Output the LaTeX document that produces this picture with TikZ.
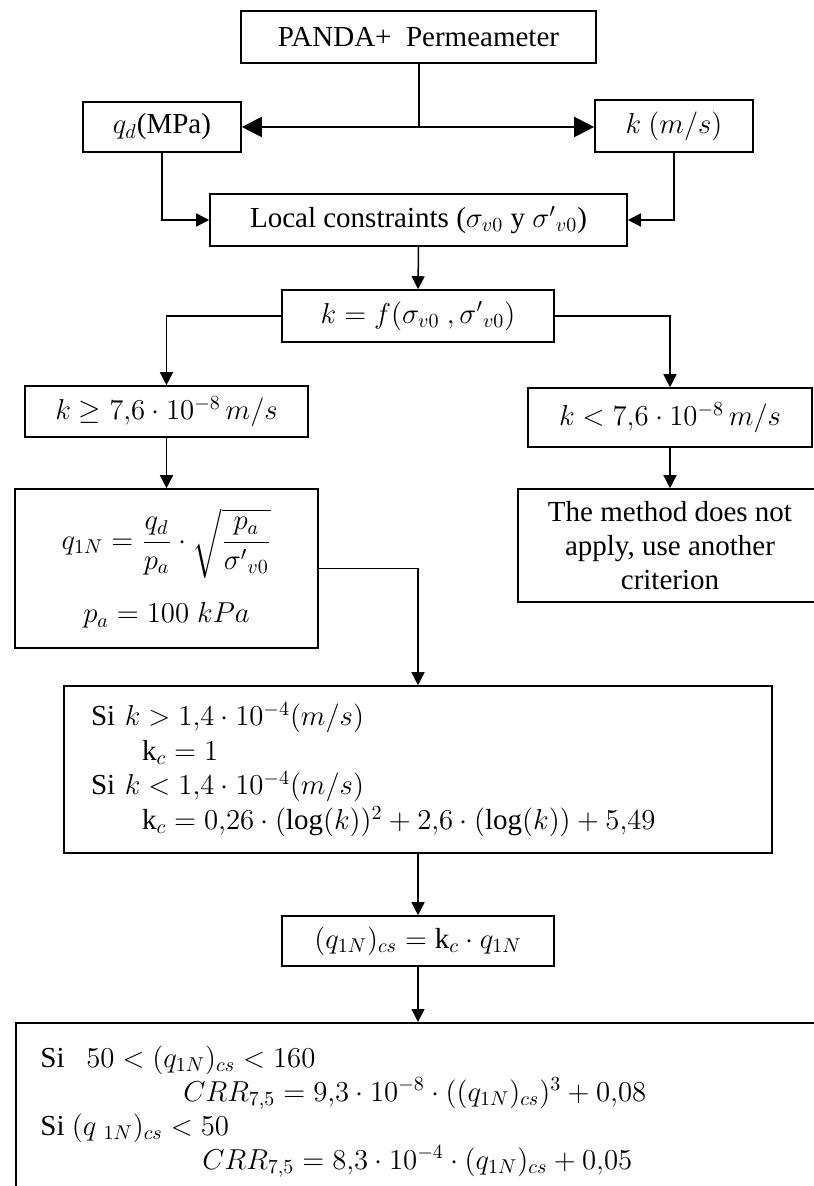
\documentclass[tikz,border=0pt]{standalone}
\usepackage{amsmath}
\usepackage{fontspec}
\setmainfont{Liberation Serif}
\usetikzlibrary{arrows.meta,calc}
\begin{document}
\begin{tikzpicture}[x=0.5pt,y=-0.5pt,
  every node/.style={font=\fontsize{14.5}{17}\selectfont},
  box/.style={draw, line width=0.8pt, inner sep=0pt, align=center},
  arr/.style={line width=0.75pt, -{Triangle[length=6.5pt,width=6.5pt]}},
  bigarr/.style={line width=1pt, -{Triangle[length=10pt,width=10pt]}},
  thickline/.style={line width=1pt}]
\useasboundingbox (0,0) rectangle (813,1186);

\node[box, minimum width=177.5pt, minimum height=26pt] (top) at (418.5,37) {PANDA+\ \ Permeameter};
\node[box, minimum width=79pt, minimum height=25pt] (qd) at (162,127) {$q_d$(MPa)};
\node[box, minimum width=79pt, minimum height=26pt] (kb) at (674,126) {$k\ (m/s)$};
\node[box, minimum width=208.5pt, minimum height=26pt] (loc) at (418.5,220) {Local constraints ($\sigma_{v0}$ y ${\sigma'}_{v0}$)};
\node[box, minimum width=136pt, minimum height=26pt] (kf) at (418,316) {$k = f(\sigma_{v0}\ ,{\sigma'}_{v0})$};
\node[box, minimum width=141.5pt, minimum height=25.5pt] (kge) at (166.5,411.5) {$k \geq 7{,}6\cdot 10^{-8}\,m/s$};
\node[box, minimum width=142pt, minimum height=29.5pt] (klt) at (670,417.5) {$k < 7{,}6\cdot 10^{-8}\,m/s$};
\node[box, minimum width=151.5pt, minimum height=79.5pt] (q1n) at (166.5,568.5) {$q_{1N} = \dfrac{q_d}{p_a}\cdot\sqrt{\dfrac{p_a}{{\sigma'}_{v0}}}$\\[11pt]$p_a = 100\;kPa$};
\node[box, minimum width=152pt, minimum height=56.5pt] (meth) at (670,545.5) {The method does not\\apply, use another\\criterion};
\node[box, minimum width=354pt, minimum height=83.5pt, text width=327pt, align=left, font=\fontsize{14.5}{17.3}\selectfont] (si) at (418,769.5) {Si $k > 1{,}4\cdot 10^{-4}(m/s)$\\\hspace*{25.5pt}$\mathrm{k}_c = 1$\\Si $k < 1{,}4\cdot10^{-4}(m/s)$\\\hspace*{25.5pt}$\mathrm{k}_c = 0{,}26\cdot(\log(k))^2 + 2{,}6\cdot(\log(k)) + 5{,}49$};
\node[box, minimum width=136pt, minimum height=25pt] (kc) at (418,941) {$(q_{1N})_{cs} = \mathrm{k}_c\cdot q_{1N}$};
\node[box, anchor=north west, minimum width=410pt, minimum height=130pt] (bot) at (15,1022) {};
\node[anchor=north west, inner sep=0pt, align=left] (bottxt) at (40,1045) {Si\ \ \ $50 < (q_{1N})_{cs} < 160$\\\hspace*{71.5pt}$CRR_{7{,}5} = 9{,}3\cdot 10^{-8}\cdot((q_{1N})_{cs})^3 + 0{,}08$\\Si $(q\ {}_{1N})_{cs} < 50$\\\hspace*{81pt}$CRR_{7{,}5} = 8{,}3\cdot10^{-4}\cdot(q_{1N})_{cs} + 0{,}05$};

\draw[thickline] (top.south) -- (top.south |- qd.east) coordinate (j);
\draw[bigarr] (j) -- (qd.east);
\draw[bigarr] (j) -- (j -| kb.west);
\draw[arr] (qd.south) |- (loc.west);
\draw[arr] (kb.south) |- (loc.east);
\draw[arr] (loc.south) -- (kf.north);
\draw[arr] (kf.west) -| (kge.north);
\draw[arr] (kf.east) -| (klt.north);
\draw[arr] (kge.south) -- (q1n.north);
\draw[arr] (klt.south) -- (meth.north);
\draw[arr] (q1n.east) -| (si.north);
\draw[arr] (si.south) -- (kc.north);
\draw[arr] (kc.south) -- (kc.south |- bot.north);
\end{tikzpicture}
\end{document}
